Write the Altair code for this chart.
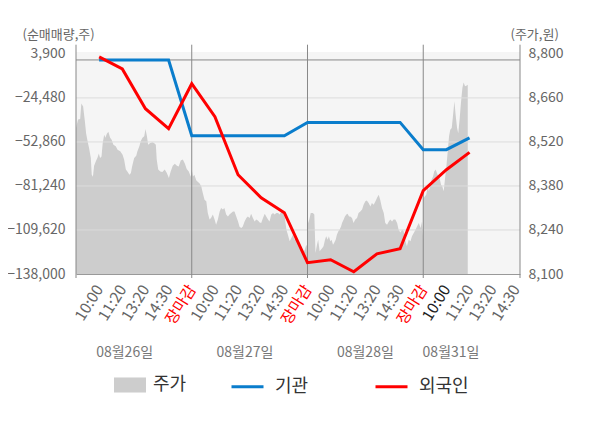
import altair as alt
import pandas as pd

# ---------------- data ----------------
# x tick labels (one per slot)
x_labels = ["10:00", "11:20", "13:20", "14:30", "장마감",
            "10:00", "11:20", "13:20", "14:30", "장마감",
            "10:00", "11:20", "13:20", "14:30", "장마감",
            "10:00", "11:20", "13:20", "14:30"]
day_labels = ["08월26일", "08월27일", "08월28일", "08월31일"]
day_label_pos = [1.1, 6.3, 11.5, 15.2]

# net buying (shares) at each labelled slot
inst = [0, 0, 0, 0, -48840, -48840, -48840, -48840, -48840,
        -40260, -40260, -40260, -40260, -40260, -57860, -57860, -50200]
foreign = [2000, -5800, -31430, -44320, -15310, -36590, -73980, -88810, -98480,
           -130710, -128780, -136570, -124970, -121750, -84300, -70760, -59600]

# intraday price (minutes after 09:00, price in won)
day1_min = [0, 7, 14, 18, 24, 30, 34, 39, 44, 50, 53, 57, 61, 68, 72, 77, 81, 86, 90, 95,
            99, 104, 109, 115, 120, 126, 134, 140, 149, 157, 162, 168, 173, 180, 185, 189, 196, 203, 207, 214,
            218, 224, 230, 234, 239, 243, 250, 257, 263, 269, 272, 277, 284, 291, 299, 306, 313, 319, 326, 333,
            340, 346, 353, 360, 367, 373, 380, 387]
day1_px = [8564, 8591, 8593, 8642, 8633, 8585, 8548, 8522, 8501, 8469, 8416, 8409, 8444, 8461, 8469, 8483, 8469, 8474, 8517, 8543,
           8533, 8546, 8552, 8533, 8527, 8511, 8506, 8495, 8490, 8479, 8464, 8432, 8426, 8416, 8421, 8442, 8469, 8476, 8490, 8508,
           8522, 8533, 8538, 8561, 8538, 8511, 8517, 8519, 8517, 8511, 8464, 8432, 8426, 8424, 8432, 8421, 8405, 8426, 8444, 8451,
           8444, 8442, 8461, 8464, 8451, 8434, 8426, 8409]
day2_min = [0, 4, 9, 15, 20, 26, 32, 37, 43, 49, 54, 60, 65, 71, 77, 82, 88, 94, 99, 105,
            110, 116, 122, 127, 133, 139, 144, 150, 156, 161, 167, 172, 178, 184, 189, 195, 200, 206, 212, 217,
            223, 229, 234, 240, 246, 251, 257, 262, 268, 274, 279, 285, 291, 296, 302, 307, 313, 319, 324, 330,
            336, 341, 347, 352, 358, 364, 369, 375, 381, 386, 390]
day2_px = [8432, 8410, 8416, 8398, 8393, 8389, 8379, 8358, 8336, 8331, 8294, 8273, 8278, 8289, 8273, 8257, 8273, 8299, 8310, 8305,
           8310, 8289, 8283, 8289, 8294, 8299, 8299, 8283, 8267, 8250, 8246, 8251, 8267, 8278, 8283, 8278, 8292, 8278, 8267, 8273,
           8270, 8264, 8262, 8278, 8292, 8283, 8273, 8267, 8289, 8294, 8289, 8294, 8294, 8289, 8299, 8294, 8283, 8241, 8225, 8204,
           8215, 8225, 8209, 8215, 8199, 8188, 8177, 8167, 8177, 8193, 8183]
day3_min = [0, 6, 11, 18, 23, 27, 32, 36, 41, 45, 50, 54, 59, 63, 68, 72, 77, 81, 86, 90,
            95, 99, 104, 108, 113, 117, 122, 126, 131, 135, 140, 144, 150, 155, 161, 167, 172, 178, 184, 189,
            195, 200, 206, 212, 217, 223, 229, 234, 240, 245, 251, 257, 262, 268, 274, 279, 285, 290, 296, 302,
            307, 313, 319, 324, 330, 335, 341, 347, 352, 358, 364, 369, 375, 381, 386, 390]
day3_px = [8257, 8273, 8294, 8294, 8289, 8167, 8193, 8209, 8172, 8177, 8183, 8188, 8209, 8220, 8209, 8220, 8204, 8209, 8193, 8199,
           8209, 8225, 8236, 8241, 8251, 8264, 8273, 8283, 8289, 8292, 8283, 8283, 8278, 8262, 8273, 8278, 8294, 8299, 8305, 8320,
           8331, 8334, 8326, 8315, 8326, 8320, 8331, 8342, 8352, 8336, 8310, 8294, 8262, 8257, 8267, 8273, 8267, 8273, 8273, 8262,
           8241, 8232, 8241, 8236, 8204, 8188, 8209, 8204, 8220, 8230, 8241, 8251, 8262, 8246, 8267, 8209]
day4_min = [0, 6, 10, 15, 19, 24, 28, 33, 37, 42, 46, 51, 55, 60, 64, 69, 73, 78, 82, 87,
            91, 96, 100, 105, 109, 114, 118, 123, 127, 132, 136, 141, 145, 150]
day4_px = [8340, 8347, 8352, 8379, 8363, 8384, 8400, 8410, 8426, 8432, 8421, 8410, 8405, 8384, 8379, 8363, 8400, 8442, 8485, 8538,
           8559, 8564, 8601, 8649, 8607, 8564, 8548, 8596, 8644, 8692, 8709, 8697, 8699, 8702]

# ---------------- tables ----------------
SLOTS_PER_DAY = 5
DAY_MIN = 390.0
rows = []
for d, (mins, pxs) in enumerate([(day1_min, day1_px), (day2_min, day2_px),
                                  (day3_min, day3_px), (day4_min, day4_px)]):
    for m, p in zip(mins, pxs):
        rows.append({"t": SLOTS_PER_DAY * d - 1 + m / DAY_MIN * SLOTS_PER_DAY, "v": p, "s": "주가"})
price_df = pd.DataFrame(rows)

inst_df = pd.DataFrame({"t": list(range(len(inst))), "v": inst, "s": "기관"})
for_df = pd.DataFrame({"t": list(range(len(foreign))), "v": foreign, "s": "외국인"})

X_MIN, X_MAX = -1, 18.18
L_DOM = [-138000, 5125]
R_DOM = [8100, 8806]
left_ticks = [3900, -24480, -52860, -81240, -109620, -138000]
right_ticks = [8100, 8240, 8380, 8520, 8660, 8800]

sep_df = pd.DataFrame({"t": [X_MIN, 4, 9, 14, X_MAX], "v": -140580, "v2": 9831})
grid_df = pd.DataFrame({"v": left_ticks[1:-1]})
zero_df = pd.DataFrame({"v": [0]})
date_df = pd.DataFrame({"t": day_label_pos, "label": day_labels})

FONT = "Noto Sans CJK KR"
label_expr = "[" + ",".join("'%s'" % s for s in x_labels) + "][datum.value]"

xaxis = alt.Axis(values=list(range(len(x_labels))), labelExpr=label_expr, ticks=False,
                 grid=False, title=None, labelAngle=-58, labelAlign="right",
                 labelBaseline="middle", labelPadding=12, labelFontSize=15.5,
                 labelOverlap=False, labelFlush=False, labelBound=False,
                 domainColor="#999999",
                 labelColor={"condition": [{"test": "datum.value == 15", "value": "#222222"},
                                           {"test": "datum.value % 5 == 4", "value": "#ff0000"}],
                             "value": "#666666"})
xenc = alt.X("t:Q", scale=alt.Scale(domain=[X_MIN, X_MAX], nice=False, zero=False), axis=xaxis)

yleft_axis = alt.Axis(orient="left", values=left_ticks, format=",.0f", grid=False, ticks=False,
                      domain=False, labelFontSize=14, labelColor="#666666", labelPadding=11,
                      title="(순매매량,주)", titleAngle=0, titleAlign="left", titleBaseline="middle",
                      titleX=-54, titleY=-18, titleFontSize=13, titleFontWeight="normal",
                      titleColor="#666666")
yright_axis = alt.Axis(orient="right", values=right_ticks, format=",.0f", grid=False, ticks=False,
                       domain=False, labelFontSize=14, labelColor="#666666", labelPadding=8,
                       title="(주가,원)", titleAngle=0, titleAlign="left", titleBaseline="middle",
                       titleX=-10, titleY=-18, titleFontSize=13, titleFontWeight="normal",
                       titleColor="#666666")
lscale = alt.Scale(domain=L_DOM, nice=False, zero=False)
rscale = alt.Scale(domain=R_DOM, nice=False, zero=False)

area = alt.Chart(price_df).mark_area(opacity=1, interpolate="linear").encode(
    x=xenc,
    y=alt.Y("v:Q", scale=rscale, axis=yright_axis),
    y2=alt.datum(8100),
    fill=alt.Fill("s:N", scale=alt.Scale(domain=["주가"], range=["#cdcdcd"]),
                  legend=alt.Legend(title=None, orient="none", legendX=38, legendY=317,
                                    direction="horizontal",
                                    symbolType="M-1,-0.47H1V0.47H-1Z", symbolSize=1024,
                                    symbolStrokeWidth=0, symbolOpacity=1,
                                    labelFontSize=18, labelColor="#333333", labelOffset=7,
                                    padding=0)),
)

grid = alt.Chart(grid_df).mark_rule(color="#dcdcdc", strokeWidth=1).encode(
    y=alt.Y("v:Q", scale=lscale, axis=yleft_axis))
zero = alt.Chart(zero_df).mark_rule(color="#888888", strokeWidth=1).encode(
    y=alt.Y("v:Q", scale=lscale, axis=yleft_axis))
seps = alt.Chart(sep_df).mark_rule(color="#888888", strokeWidth=1).encode(
    x=xenc, y=alt.Y("v:Q", scale=lscale, axis=yleft_axis), y2="v2:Q")

stroke_enc = alt.Stroke("s:N", scale=alt.Scale(domain=["기관", "외국인"], range=["#0a7dcc", "#ff0000"]),
                        legend=alt.Legend(title=None, orient="none", legendX=154, legendY=317,
                                          direction="horizontal", symbolType="stroke",
                                          symbolSize=1024, symbolStrokeWidth=3,
                                          labelFontSize=18, labelColor="#333333", labelOffset=10,
                                          columnPadding=60, padding=0))
blue = alt.Chart(inst_df).mark_line(strokeWidth=3).encode(
    x=xenc, y=alt.Y("v:Q", scale=lscale, axis=yleft_axis), stroke=stroke_enc)
red = alt.Chart(for_df).mark_line(strokeWidth=3).encode(
    x=xenc, y=alt.Y("v:Q", scale=lscale, axis=yleft_axis), stroke=stroke_enc)

dates = alt.Chart(date_df).mark_text(fontSize=14, color="#777777", align="center",
                                     baseline="middle").encode(
    x=xenc, y=alt.value(301), text="label:N")

left_group = alt.layer(grid, zero, seps, blue, red, dates)

chart = alt.layer(area, left_group).resolve_scale(y="independent").properties(
    width=444, height=222,
    padding={"left": 68, "top": 44, "right": 72, "bottom": 146},
    autosize=alt.AutoSizeParams(type="none"),
    background="white",
).configure(font=FONT).configure_view(stroke=None, fill="#f5f5f5")

chart.save("out.html", embed_options={"renderer": "svg", "actions": False})
